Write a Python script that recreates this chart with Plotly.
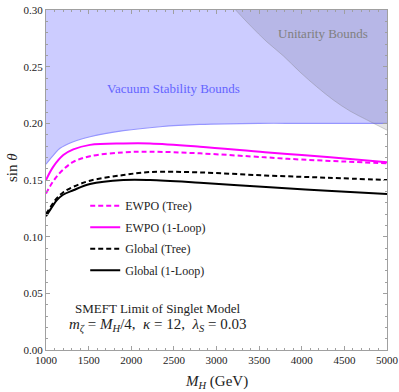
import plotly.graph_objects as go

# ---- data ----
vac_mh = [1000, 1100, 1164, 1320, 1516, 1907, 2337, 2800, 3500, 4000, 5000]
vac_sin = [0.164, 0.173, 0.178, 0.1838, 0.1882, 0.1935, 0.197, 0.199, 0.2, 0.2, 0.2]

uni_mh = [3225, 3400, 3589, 3784, 3980, 4175, 4370, 4566, 4762, 5000]
uni_sin = [0.30, 0.286, 0.272, 0.2595, 0.2452, 0.2323, 0.2206, 0.2108, 0.2031, 0.194]

ewpo_tree_mh = [1000, 1060, 1125, 1200, 1320, 1516, 1907, 2220, 2806, 3569, 4000, 4500, 5000]
ewpo_tree_sin = [0.138, 0.146, 0.153, 0.159, 0.166, 0.171, 0.1744, 0.175, 0.1735, 0.170, 0.168, 0.1663, 0.1647]

ewpo_loop_mh = [1000, 1086, 1203, 1320, 1516, 1907, 2220, 2806, 3569, 4000, 4500, 5000]
ewpo_loop_sin = [0.150, 0.1618, 0.172, 0.177, 0.181, 0.1823, 0.1823, 0.1794, 0.1744, 0.1720, 0.1690, 0.1656]

glob_tree_mh = [1000, 1060, 1125, 1200, 1320, 1516, 1907, 2220, 2806, 3569, 4300, 5000]
glob_tree_sin = [0.120, 0.127, 0.1338, 0.139, 0.144, 0.1494, 0.1544, 0.1570, 0.1567, 0.154, 0.152, 0.150]

glob_loop_mh = [1000, 1060, 1125, 1200, 1320, 1516, 1907, 2220, 2806, 3628, 4300, 5000]
glob_loop_sin = [0.118, 0.125, 0.132, 0.137, 0.141, 0.1465, 0.150, 0.150, 0.1476, 0.1435, 0.1405, 0.1376]

x_ticks = [1000, 1500, 2000, 2500, 3000, 3500, 4000, 4500, 5000]
y_ticks = [0.00, 0.05, 0.10, 0.15, 0.20, 0.25, 0.30]
y_top = 0.30

SERIF = "Liberation Serif, Times New Roman, DejaVu Serif, serif"

fig = go.Figure()

# Vacuum stability region (above boundary)
fig.add_trace(go.Scatter(x=vac_mh, y=[y_top] * len(vac_mh), mode="lines",
                         line=dict(width=0, color="rgba(0,0,0,0)"),
                         showlegend=False, hoverinfo="skip"))
fig.add_trace(go.Scatter(x=vac_mh, y=vac_sin, mode="lines", fill="tonexty",
                         fillcolor="rgb(204,204,255)",
                         line=dict(width=1.2, color="rgb(150,150,255)", shape="spline"),
                         showlegend=False, hoverinfo="skip"))

# Unitarity region (above boundary)
fig.add_trace(go.Scatter(x=uni_mh, y=[y_top] * len(uni_mh), mode="lines",
                         line=dict(width=0, color="rgba(0,0,0,0)"),
                         showlegend=False, hoverinfo="skip"))
fig.add_trace(go.Scatter(x=uni_mh, y=uni_sin, mode="lines", fill="tonexty",
                         fillcolor="rgba(50,50,70,0.13)",
                         line=dict(width=1, color="rgba(120,120,120,0.35)", shape="spline"),
                         showlegend=False, hoverinfo="skip"))

series = [
    ("EWPO (Tree)", ewpo_tree_mh, ewpo_tree_sin, "#ff00ff", "5px,3px"),
    ("EWPO (1-Loop)", ewpo_loop_mh, ewpo_loop_sin, "#ff00ff", "solid"),
    ("Global (Tree)", glob_tree_mh, glob_tree_sin, "#000000", "5px,3px"),
    ("Global (1-Loop)", glob_loop_mh, glob_loop_sin, "#000000", "solid"),
]
for i, (name, xs, ys, col, dash) in enumerate(series):
    fig.add_trace(go.Scatter(x=xs, y=ys, mode="lines", name=name,
                             legendgroup="g%d" % i,
                             line=dict(color=col, width=2, dash=dash, shape="spline")))

axis_common = dict(
    showline=True, linecolor="#a0a0a0", linewidth=1, mirror="ticks",
    ticks="inside", ticklen=4, tickcolor="#a0a0a0", tickwidth=1,
    showgrid=False, zeroline=False,
    tickfont=dict(family=SERIF, size=11, color="#222"),
)

fig.update_xaxes(range=[1000, 5000], tickvals=x_ticks,
                 ticktext=[str(v) for v in x_ticks],
                 minor=dict(ticks="inside", ticklen=2, dtick=100, tickcolor="#a0a0a0"),
                 automargin=False,
                 **axis_common)
fig.update_yaxes(range=[0, y_top], tickvals=y_ticks,
                 ticktext=["%.2f" % v for v in y_ticks],
                 minor=dict(ticks="inside", ticklen=2, dtick=0.01, tickcolor="#a0a0a0"),
                 automargin=False,
                 **axis_common)

fig.add_annotation(text="<i>M</i><sub><i>H</i></sub> (GeV)", xref="paper", yref="paper",
                   x=0.5, y=-0.094, xanchor="center", yanchor="middle", showarrow=False,
                   font=dict(family=SERIF, size=15, color="#222"))
fig.add_annotation(text="sin <i>θ</i>", xref="paper", yref="paper",
                   x=-0.1, y=0.538, xanchor="center", yanchor="middle",
                   textangle=-90, showarrow=False,
                   font=dict(family=SERIF, size=15, color="#222"))

fig.add_annotation(text="Vacuum Stability Bounds", x=2500, y=0.2303,
                   showarrow=False, font=dict(family=SERIF, size=13, color="rgb(100,100,255)"))
fig.add_annotation(text="Unitarity Bounds", x=4255, y=0.2797,
                   showarrow=False, font=dict(family=SERIF, size=13, color="rgb(128,128,128)"))
fig.add_annotation(text="SMEFT Limit of Singlet Model", x=2314, y=0.037,
                   showarrow=False, font=dict(family=SERIF, size=13, color="#222"))
fig.add_annotation(text="<i>m</i><sub><i>ζ</i></sub> = <i>M</i><sub><i>H</i></sub>/4,  <i>κ</i> = 12,  <i>λ</i><sub><i>S</i></sub> = 0.03",
                   x=2308, y=0.022, showarrow=False,
                   font=dict(family=SERIF, size=15, color="#222"))

fig.update_layout(
    width=399, height=392,
    margin=dict(l=46, r=12, t=10, b=42),
    paper_bgcolor="white", plot_bgcolor="white",
    showlegend=True,
    legend=dict(x=0.115, y=0.467, xanchor="left", yanchor="top",
                bgcolor="rgba(0,0,0,0)", tracegroupgap=2.5,
                font=dict(family=SERIF, size=12, color="#222")),
)

fig.write_html("out.html", config={"displayModeBar": False},
               post_script="document.body.style.margin='0';document.body.style.overflow='hidden';")
